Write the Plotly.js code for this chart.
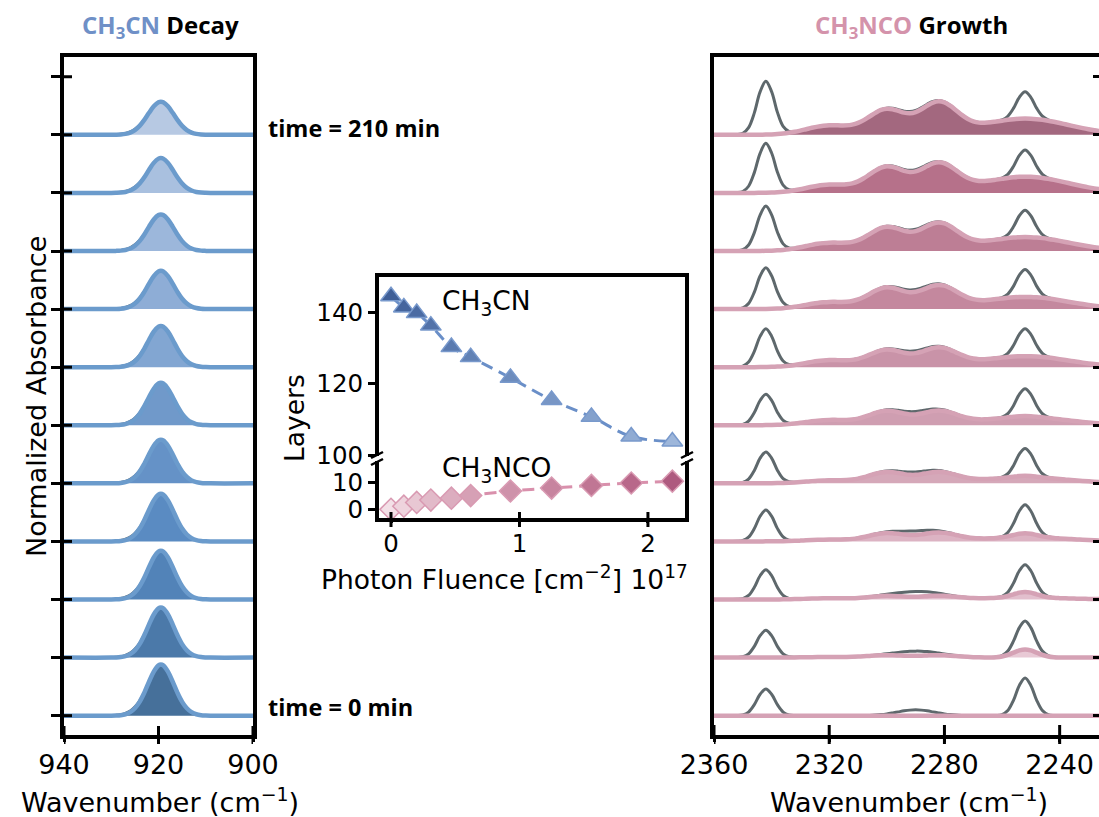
<!DOCTYPE html>
<html><head><meta charset="utf-8">
<script src="https://cdn.plot.ly/plotly-3.0.1.min.js"></script>
<style>html,body{margin:0;padding:0;overflow:hidden;background:#fff}#chart{width:1108px;height:817px}</style>
</head><body><div id="chart"></div>
<script>
// ---------------- DATA ----------------
// Left panel: CH3CN band (wavenumber grid and band profiles)
const WN_L = [940, 930, 929, 928, 927, 926, 925, 924, 923, 922, 921, 920, 919.5, 919, 918, 917, 916, 915, 914, 913, 912, 911, 910, 909, 900];
const CH3CN_FIT_PROFILE = [0, 0, 0.003, 0.01, 0.028, 0.068, 0.145, 0.27, 0.45, 0.665, 0.862, 0.984, 1, 0.984, 0.862, 0.665, 0.45, 0.27, 0.145, 0.068, 0.028, 0.01, 0.003, 0, 0];
const CH3CN_RAW_PROFILE = [0, 0.004, 0.011, 0.024, 0.05, 0.095, 0.175, 0.295, 0.465, 0.67, 0.862, 0.984, 1, 0.984, 0.862, 0.665, 0.452, 0.275, 0.15, 0.072, 0.03, 0.012, 0.004, 0, 0];
// peak height per spectrum, time = 0 ... 210 min (bottom to top)
const CH3CN_HEIGHT = [0.88, 0.86, 0.84, 0.82, 0.75, 0.73, 0.71, 0.66, 0.63, 0.60, 0.57];
const TIME_LABELS = ['time = 0 min', 'time = 210 min'];

// Right panel: 2360-2226 cm-1 region
const WN_R = [2360,2358,2356,2354,2352,2350,2348,2346,2344,2342,2340,2338,2336,2334,2332,2330,2328,2326,2324,2322,2320,2318,2316,2314,2312,2310,2308,2306,2304,2302,2300,2298,2296,2294,2292,2290,2288,2286,2284,2282,2280,2278,2276,2274,2272,2270,2268,2266,2264,2262,2260,2258,2256,2254,2252,2250,2248,2246,2244,2242,2240,2238,2236,2234,2232,2230,2228,2226];
// half band profiles vs distance from band centre (steps of 2 cm-1)
const PROFILE_NARROW = [1, 0.801, 0.411, 0.135, 0.029, 0.004];
const PROFILE_M4 = [1, 0.882, 0.607, 0.325, 0.135, 0.044, 0.011];
const PROFILE_M65 = [1, 0.954, 0.828, 0.653, 0.469, 0.306, 0.182, 0.098, 0.048, 0.022, 0.009];
const PROFILE_B8 = [1, 0.969, 0.882, 0.755, 0.607, 0.458, 0.325, 0.216, 0.135, 0.080, 0.044, 0.023, 0.011];
const PROFILE_B15 = [1, 0.991, 0.965, 0.923, 0.868, 0.801, 0.726, 0.647, 0.566, 0.487, 0.411, 0.341, 0.278, 0.223, 0.175, 0.135, 0.103, 0.077, 0.056, 0.040, 0.028, 0.020, 0.014, 0.009, 0.006];
// band amplitudes per spectrum (time 0 ... 210 min)
const CO2_2342 = [0.46, 0.47, 0.51, 0.54, 0.54, 0.53, 0.66, 0.71, 0.77, 0.85, 0.92];
const CN_2252 = [0.65, 0.49, 0.47, 0.49, 0.47, 0.47, 0.47, 0.47, 0.46, 0.46, 0.46];
const BUMP_2290 = [0.10, 0.08, 0.09, 0.07, 0.05, 0.05, 0.04, 0.04, 0.03, 0.03, 0.03];
const NCO_2320 = [0, 0.01, 0.02, 0.03, 0.05, 0.09, 0.12, 0.12, 0.14, 0.14, 0.16];
const NCO_2300 = [0, 0.04, 0.06, 0.14, 0.19, 0.24, 0.29, 0.36, 0.40, 0.44, 0.43];
const NCO_2282 = [0, 0.04, 0.06, 0.14, 0.18, 0.23, 0.31, 0.38, 0.45, 0.48, 0.53];
const NCO_2252N = [0, 0.14, 0.10, 0.07, 0.03, 0.02, 0, 0, 0, 0, 0];
const NCO_2252B = [0, 0, 0.03, 0.07, 0.10, 0.14, 0.19, 0.21, 0.24, 0.28, 0.28];

// Inset: layers vs photon fluence (1e17 cm-2)
const FLUENCE = [0, 0.10, 0.20, 0.31, 0.47, 0.62, 0.93, 1.25, 1.56, 1.87, 2.19];
const LAYERS_CH3CN = [144.4, 141.3, 139.7, 136.2, 130.2, 127.4, 121.6, 115.4, 110.7, 105.2, 103.8];
const LAYERS_CH3NCO = [0, 1.2, 2.6, 3.5, 4.2, 5.2, 6.9, 8.0, 9.0, 9.9, 10.6];

// tick values
const TICKS_L_X = [940, 920, 900];
const TICKS_R_X = [2360, 2320, 2280, 2240];
const TICKS_OFFSET = [0,1,2,3,4,5,6,7,8,9,10,11];
const TICKS_IN_X = [0, 1, 2];
const TICKS_UP_Y = [100, 120, 140];
const TICKS_LO_Y = [0, 10];

// ---------------- STYLE ----------------
const W = 1108, H = 817;
const px = v => v / W, py = v => 1 - v / H;
const BLUE_FILL = ['#46709a','#4b79a9','#5283b8','#5a8bc2','#6592c7','#7099ca','#82a6d2','#8eadd6','#9cb7db','#a9c0df','#b7c9e3'];
const PINK_FILL = ['#eedae2','#e8c9d5','#e2bfcd','#dcb3c3','#d5a8b9','#cf9eb1','#c993a8','#c4889e','#bd7e95','#b6718a','#a3687f'];
const TRI_COLORS = ['#3f5f97','#45659d','#4b6ba3','#5272a9','#5a7aaf','#6282b5','#6d8cbd','#7896c5','#84a1cc','#90abd3','#9db6da'];
const DIA_COLORS = ['#f3e0e7','#eed3dd','#e8c7d3','#e2bac9','#dcadbf','#d6a0b5','#ce92aa','#c7849f','#c07694','#b8688a','#ae5a7f'];
const BLUE_LINE = '#6b9bcc', GREY_LINE = '#5e686c', PINK_LINE = '#d5a2b5';
const TICKFONT = {family: 'DejaVu Sans', size: 27, color: '#000'};
const INFONT = {family: 'DejaVu Sans', size: 26.5, color: '#000'};
const INTICKFONT = {family: 'DejaVu Sans', size: 24.5, color: '#000'};

const traces = [];
// Left panel
for (let i = 0; i < CH3CN_HEIGHT.length; i++) {
  traces.push({x: WN_L, y: CH3CN_RAW_PROFILE.map(v => i + CH3CN_HEIGHT[i] * v), xaxis: 'x', yaxis: 'y',
    mode: 'lines', line: {color: GREY_LINE, width: 2.5, shape: 'spline'}, hoverinfo: 'skip'});
  traces.push({x: WN_L, y: WN_L.map(() => i), xaxis: 'x', yaxis: 'y', mode: 'lines', line: {width: 0, color: 'rgba(0,0,0,0)'}, hoverinfo: 'skip'});
  traces.push({x: WN_L, y: CH3CN_FIT_PROFILE.map(v => i + CH3CN_HEIGHT[i] * v), xaxis: 'x', yaxis: 'y',
    mode: 'lines', fill: 'tonexty', fillcolor: BLUE_FILL[i], line: {color: BLUE_LINE, width: 4.5, shape: 'spline'}, hoverinfo: 'skip'});
}
// Right panel
function band(profile, centre, x) {
  const k = Math.round(Math.abs(x - centre) / 2);
  return k < profile.length ? profile[k] : 0;
}
for (let i = 0; i < CO2_2342.length; i++) {
  const pink = WN_R.map(x =>
    NCO_2320[i] * band(PROFILE_B8, 2320, x) + NCO_2300[i] * band(PROFILE_M65, 2300, x) +
    NCO_2282[i] * band(PROFILE_M65, 2282, x) + NCO_2252N[i] * band(PROFILE_M4, 2252, x) +
    NCO_2252B[i] * band(PROFILE_B15, 2252, x));
  const grey = WN_R.map((x, j) => pink[j] + CO2_2342[i] * band(PROFILE_NARROW, 2342, x) +
    CN_2252[i] * band(PROFILE_NARROW, 2252, x) + BUMP_2290[i] * band(PROFILE_M65, 2290, x));
  traces.push({x: WN_R, y: grey.map(v => i + v), xaxis: 'x2', yaxis: 'y2', mode: 'lines',
    line: {color: GREY_LINE, width: 3, shape: 'spline'}, hoverinfo: 'skip'});
  traces.push({x: WN_R, y: WN_R.map(() => i), xaxis: 'x2', yaxis: 'y2', mode: 'lines', line: {width: 0, color: 'rgba(0,0,0,0)'}, hoverinfo: 'skip'});
  traces.push({x: WN_R, y: pink.map(v => i + v), xaxis: 'x2', yaxis: 'y2', mode: 'lines', fill: 'tonexty',
    fillcolor: PINK_FILL[i], line: {color: PINK_LINE, width: 4.5, shape: 'spline'}, hoverinfo: 'skip'});
}
// Inset
traces.push({x: FLUENCE, y: LAYERS_CH3CN, xaxis: 'x3', yaxis: 'y3', mode: 'lines+markers',
  line: {color: '#6a8fc8', width: 3, dash: '12px,7px', shape: 'spline'},
  marker: {symbol: 'triangle-up', size: 18, color: TRI_COLORS, line: {color: '#7899cc', width: 1.5}}, cliponaxis: false});
traces.push({x: FLUENCE, y: LAYERS_CH3NCO, xaxis: 'x4', yaxis: 'y4', mode: 'lines+markers',
  line: {color: '#d990ac', width: 3, dash: '12px,7px', shape: 'spline'},
  marker: {symbol: 'diamond', size: 17, color: DIA_COLORS, line: {color: '#d99ab2', width: 1.5}}, cliponaxis: false});

// ---------------- LAYOUT ----------------
const baseAxis = {showgrid: false, zeroline: false, showline: true, linecolor: '#000', linewidth: 4,
  ticks: 'outside', ticklen: 9, tickwidth: 3, tickcolor: '#000', tickfont: TICKFONT, fixedrange: true};
const shapes = [];
const tk = (o) => Object.assign({type: 'line', line: {color: '#000', width: 3}}, o);
// ticks crossing the frame (in and out)
TICKS_L_X.forEach(v => shapes.push(tk({xref: 'x', yref: 'paper', x0: v, x1: v, y0: py(744), y1: py(726)})));
TICKS_R_X.forEach(v => shapes.push(tk({xref: 'x2', yref: 'paper', x0: v, x1: v, y0: py(744), y1: py(725)})));
TICKS_OFFSET.forEach(v => shapes.push(tk({xref: 'paper', yref: 'y', x0: px(64), x1: px(72), y0: v, y1: v})));
TICKS_IN_X.forEach(v => shapes.push(tk({xref: 'x4', yref: 'paper', x0: v, x1: v, y0: py(527), y1: py(512)})));
// inset frame
shapes.push({type: 'rect', xref: 'paper', yref: 'paper', x0: px(377), x1: px(687), y0: py(520), y1: py(275), line: {color: '#000', width: 4}});
// axis-break marks
[377, 687].forEach(xc => {
  shapes.push({type: 'rect', xref: 'paper', yref: 'paper', x0: px(xc - 4), x1: px(xc + 4), y0: py(461), y1: py(456), fillcolor: '#fff', line: {width: 0}});
  shapes.push(tk({xref: 'paper', yref: 'paper', x0: px(xc - 6), x1: px(xc + 6), y0: py(458), y1: py(452), line: {color: '#000', width: 2.5}}));
  shapes.push(tk({xref: 'paper', yref: 'paper', x0: px(xc - 6), x1: px(xc + 6), y0: py(465), y1: py(459), line: {color: '#000', width: 2.5}}));
});

const ann = (text, x, y, o) => Object.assign({text: text, xref: 'paper', yref: 'paper', x: px(x), y: py(y), showarrow: false, xanchor: 'center', yanchor: 'middle'}, o || {});
const annotations = [
  ann("<b><span style='color:#6f90c7'>CH<sub>3</sub>CN</span> Decay</b>", 160, 26, {font: {family: 'Open Sans', size: 24, color: '#000'}}),
  ann("<b><span style='color:#d493ab'>CH<sub>3</sub>NCO</span> Growth</b>", 911, 26, {font: {family: 'Open Sans', size: 24, color: '#000'}}),
  ann('<b>' + TIME_LABELS[1] + '</b>', 266, 128, {xanchor: 'left', font: {family: 'Open Sans', size: 23.5, color: '#000'}}),
  ann('<b>' + TIME_LABELS[0] + '</b>', 266, 707, {xanchor: 'left', font: {family: 'Open Sans', size: 23.5, color: '#000'}}),
  ann('Normalized Absorbance', 36, 397, {textangle: -90, font: TICKFONT}),
  ann('Wavenumber (cm<sup>−1</sup>)', 160, 800, {font: TICKFONT}),
  ann('Wavenumber (cm<sup>−1</sup>)', 909, 800, {font: TICKFONT}),
  ann('CH<sub>3</sub>CN', 440, 302, {xanchor: 'left', font: INFONT}),
  ann('CH<sub>3</sub>NCO', 440, 470, {xanchor: 'left', font: INFONT}),
  ann('Layers', 294, 418, {textangle: -90, font: INFONT}),
  ann('Photon Fluence [cm<sup>−2</sup>] 10<sup>17</sup>', 504, 578, {font: INFONT})
];

const layout = {
  width: W, height: H, margin: {l: 0, r: 0, t: 0, b: 0}, paper_bgcolor: '#fff', plot_bgcolor: 'rgba(0,0,0,0)',
  showlegend: false, hovermode: false,
  xaxis: Object.assign({}, baseAxis, {domain: [px(64), px(253)], range: [940, 900], anchor: 'y', mirror: true, ticklen: 3, tickvals: TICKS_L_X}),
  yaxis: Object.assign({}, baseAxis, {domain: [py(735), py(57)], range: [-0.333, 11.34], anchor: 'x', mirror: true, tickvals: TICKS_OFFSET, showticklabels: false}),
  xaxis2: Object.assign({}, baseAxis, {domain: [px(714), px(1102)], range: [2360, 2225.3], anchor: 'y2', mirror: true, ticklen: 3, tickvals: TICKS_R_X}),
  yaxis2: Object.assign({}, baseAxis, {domain: [py(735), py(57)], range: [-0.333, 11.34], anchor: 'x2', side: 'right', mirror: true, ticks: 'inside', tickvals: TICKS_OFFSET, showticklabels: false}),
  xaxis3: Object.assign({}, baseAxis, {domain: [px(377), px(687)], range: [-0.109, 2.304], anchor: 'y3', showline: false, ticks: '', showticklabels: false}),
  yaxis3: Object.assign({}, baseAxis, {domain: [py(458), py(275)], range: [99.2, 150.35], anchor: 'x3', showline: false, ticklen: 8, tickvals: TICKS_UP_Y, tickfont: INTICKFONT}),
  xaxis4: Object.assign({}, baseAxis, {domain: [px(377), px(687)], range: [-0.109, 2.304], anchor: 'y4', showline: false, ticklen: 2, tickvals: TICKS_IN_X, tickfont: INTICKFONT}),
  yaxis4: Object.assign({}, baseAxis, {domain: [py(520), py(458)], range: [-4.0, 19.3], anchor: 'x4', showline: false, ticklen: 8, tickvals: TICKS_LO_Y, tickfont: INTICKFONT}),
  shapes: shapes, annotations: annotations
};
Plotly.newPlot('chart', traces, layout, {displayModeBar: false, staticPlot: true});
</script>
</body></html>
